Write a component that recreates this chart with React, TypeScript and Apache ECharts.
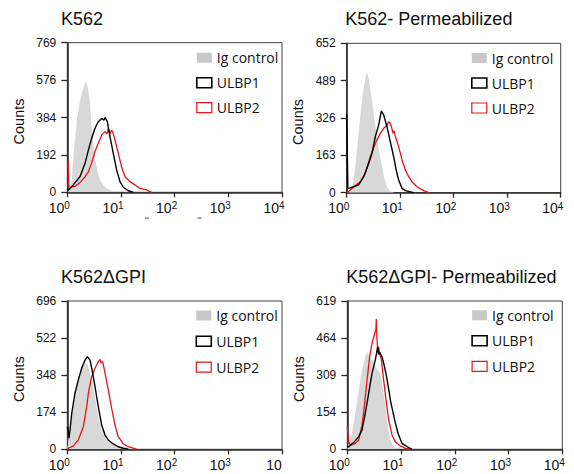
import React, { useEffect, useRef } from "react";
import * as echarts from "echarts";

const panelTitles = ["K562", "K562- Permeabilized", "K562\u0394GPI", "K562\u0394GPI- Permeabilized"];
const yMax = [769, 652, 696, 619];
const seriesNames = ["Ig control", "ULBP1", "ULBP2"];
const yAxisName = "Counts";

// Panel 1: K562
const p1Ig = [[1.0,0],[1.05,5],[1.12,25],[1.21,63],[1.33,217],[1.45,320],[1.53,386],[1.7,460],[1.85,505],[2.05,545],[2.24,570],[2.4,540],[2.61,474],[2.92,303],[3.33,165],[3.7,100],[4.06,63],[4.7,35],[5.41,20],[7.1,6],[10,0]];
const p1U1 = [[1.0,12],[1.05,12],[1.29,38],[1.72,80],[2.14,149],[2.47,217],[2.84,277],[3.28,329],[3.78,363],[4.37,380],[4.8,370],[5.04,385],[5.57,363],[6.24,286],[7.19,200],[8.3,115],[9.57,55],[11.07,26],[13.7,8],[17,0]];
const p1U2 = [[1.0,157],[1.04,157],[1.07,30],[1.12,26],[1.39,30],[1.72,50],[2.14,80],[2.47,105],[2.84,150],[3.28,210],[3.78,252],[4.37,295],[5.04,312],[5.5,300],[5.81,329],[6.2,300],[6.7,320],[7.2,300],[7.73,270],[8.91,200],[10.3,130],[11.9,80],[14.7,55],[18.2,38],[22.6,20],[30.1,12],[37.3,0]];

// Panel 2: K562- Permeabilized
const p2Ig = [[1.0,0],[1.15,3],[1.26,12],[1.45,113],[1.67,259],[1.93,405],[2.15,480],[2.39,528],[2.6,490],[2.97,405],[3.57,259],[4.1,170],[4.57,113],[5.1,60],[5.66,25],[6.53,5],[8,0]];
const p2U1 = [[1,346],[1.03,346],[1.05,20],[1.09,19],[1.35,26],[1.67,34],[2.08,70],[2.58,128],[2.97,172],[3.43,245],[3.96,295],[4.44,357],[4.92,339],[5.66,288],[6.53,223],[7.55,157],[8.4,99],[9.37,55],[10.8,19],[12.5,9],[17.9,0]];
const p2U2 = [[1,0],[1.17,12],[1.35,26],[1.8,48],[2.23,85],[2.76,157],[3.43,216],[4.25,259],[4.92,281],[5.66,295],[6.1,310],[6.53,303],[7.0,280],[7.34,259],[7.7,270],[8.11,245],[9.37,201],[10.8,143],[12.5,99],[14.4,70],[16.6,48],[20.6,26],[27.5,9],[34.1,0]];

// Panel 3: K562ΔGPI
const p3Ig = [[1,0],[1.03,30],[1.045,44],[1.21,153],[1.39,247],[1.6,325],[1.85,388],[2.14,404],[2.36,400],[2.5,380],[2.84,325],[3.28,247],[3.78,153],[4.37,91],[5.04,59],[6.24,36],[7.73,20],[9.57,9],[12.8,0]];
const p3U1 = [[1,106],[1.03,95],[1.08,52],[1.21,169],[1.39,263],[1.6,325],[1.85,380],[2.14,419],[2.36,435],[2.65,419],[2.97,357],[3.28,294],[3.78,200],[4.37,114],[5.04,67],[5.81,44],[7.19,25],[8.91,12],[11.07,5],[13.7,0]];
const p3U2 = [[1,0],[1.045,5],[1.29,15],[1.6,44],[1.99,106],[2.3,200],[2.47,263],[2.84,341],[3.28,380],[3.78,411],[4.06,422],[4.3,405],[4.56,411],[5.04,357],[5.81,278],[6.7,192],[7.73,114],[8.91,59],[11.07,25],[13.7,12],[17,5],[19.6,0]];

// Panel 4: K562ΔGPI- Permeabilized
const p4Ig = [[1,0],[1.06,25],[1.22,67],[1.41,150],[1.63,248],[1.88,331],[2.16,387],[2.4,407],[2.68,380],[3.01,370],[3.32,345],[3.67,330],[4.11,317],[4.75,234],[5.48,122],[6.31,39],[7.3,11],[8.4,0]];
const p4U1 = [[1,8],[1.06,11],[1.31,28],[1.63,53],[1.88,81],[2.16,150],[2.5,234],[2.88,317],[3.32,373],[3.5,400],[3.67,428],[3.84,395],[4.0,405],[4.42,387],[4.75,359],[5.32,310],[5.89,250],[6.4,200],[7.08,154],[7.82,110],[8.78,67],[10.4,25],[12.9,11],[16,0]];
const p4U2 = [[1,94],[1.03,94],[1.06,30],[1.17,17],[1.41,25],[1.63,39],[1.88,101],[2.07,178],[2.33,289],[2.61,387],[2.88,442],[3.18,477],[3.4,500],[3.47,544],[3.55,470],[3.67,415],[3.84,428],[4.0,401],[4.3,373],[4.75,289],[5.25,206],[5.89,122],[6.79,60],[7.82,32],[9.69,14],[12.0,4],[16.0,0]];

const panelData = [
  [p1Ig, p1U1, p1U2],
  [p2Ig, p2U1, p2U2],
  [p3Ig, p3U1, p3U2],
  [p4Ig, p4U1, p4U2],
];

const FONT = "'Liberation Sans', Arial, sans-serif";
const LEG_FONT = "'Open Sans', sans-serif";
const GRAY = "#d8d8d8";
const RED = "#e8141c";
const AXIS = "#2a2a2a";

const grids = [
  { left: 67.3, top: 42.7, width: 214.7, height: 149.6 },
  { left: 346.7, top: 43.3, width: 214, height: 149.4 },
  { left: 67.3, top: 301, width: 214.7, height: 148.3 },
  { left: 347.3, top: 301, width: 215, height: 148.3 },
];
const titlePos = [
  { left: 61, top: 9.5 },
  { left: 345.3, top: 9.5 },
  { left: 61, top: 267.8 },
  { left: 346.3, top: 267.8 },
];
const legendPos = [
  { left: 196, top: 50.7, gap: 11 },
  { left: 471, top: 51, gap: 11 },
  { left: 195.5, top: 308.5, gap: 11.8 },
  { left: 471.3, top: 308.3, gap: 11.5 },
];

export default function App() {
  const ref = useRef<HTMLDivElement>(null);
  useEffect(() => {
    if (!ref.current) return;
    const chart = echarts.init(ref.current, null, { renderer: "svg" });
    const xAxes = grids.map((_, i) => ({
      gridIndex: i,
      type: "log",
      logBase: 10,
      min: 1,
      max: 10000,
      axisLine: { show: true, onZero: false, lineStyle: { color: AXIS, width: 1.6 } },
      axisTick: { show: true, inside: false, length: 5, lineStyle: { color: AXIS, width: 1.3 } },
      splitLine: { show: false },
      minorTick: { show: false },
      axisLabel: {
        margin: 8.5,
        padding: [0, 16, 0, 0],
        formatter: (v: number) => {
          const e = Math.round(Math.log10(v));
          if (i === 2 && e === 4) return "{b|10}";
          return "{b|10}{s|" + e + "}";
        },
        rich: {
          b: { fontSize: 14, lineHeight: 14, verticalAlign: "bottom", fontFamily: FONT, color: "#111" },
          s: { fontSize: 10, lineHeight: 10, verticalAlign: "top", fontFamily: FONT, color: "#111" },
        },
      },
    }));
    const yAxes = grids.map((_, i) => ({
      gridIndex: i,
      type: "value",
      min: 0,
      max: yMax[i],
      interval: yMax[i] / 4,
      axisLine: { show: true, lineStyle: { color: AXIS, width: 1.6 } },
      axisTick: { show: true, inside: false, length: 6, lineStyle: { color: AXIS, width: 1.3 } },
      splitLine: { show: false },
      axisLabel: {
        margin: 11,
        fontSize: 12,
        fontFamily: FONT,
        color: "#111",
        formatter: (v: number) => String(Math.floor(v + 1e-6)),
      },
      name: yAxisName,
      nameLocation: "middle",
      nameGap: 41,
      nameTextStyle: { fontSize: 14.5, fontFamily: FONT, color: "#111", padding: [0, 8, 0, 0] },
    }));
    const series: any[] = [];
    panelData.forEach((sets, i) => {
      series.push({
        type: "line",
        name: seriesNames[0],
        xAxisIndex: i,
        yAxisIndex: i,
        data: sets[0],
        symbol: "none",
        showSymbol: false,
        lineStyle: { width: 0, color: GRAY },
        itemStyle: { color: GRAY },
        areaStyle: { color: GRAY, opacity: 1 },
        z: 1,
      });
      series.push({
        type: "line",
        name: seriesNames[1],
        xAxisIndex: i,
        yAxisIndex: i,
        data: sets[1],
        symbol: "none",
        showSymbol: false,
        lineStyle: { width: 1.4, color: "#000" },
        itemStyle: { color: "#000" },
        z: 3,
      });
      series.push({
        type: "line",
        name: seriesNames[2],
        xAxisIndex: i,
        yAxisIndex: i,
        data: sets[2],
        symbol: "none",
        showSymbol: false,
        lineStyle: { width: 1.3, color: RED },
        itemStyle: { color: RED },
        z: 2,
      });
    });
    const legends = legendPos.map((p) => ({
      left: p.left,
      top: p.top,
      orient: "vertical",
      padding: 0,
      itemWidth: 15,
      itemHeight: 10,
      itemGap: p.gap,
      selectedMode: false,
      textStyle: { fontSize: 14, lineHeight: 10, fontFamily: LEG_FONT, color: "#111" },
      data: [
        { name: seriesNames[0], icon: "rect", itemStyle: { color: "#c8c8c8", borderWidth: 0 } },
        { name: seriesNames[1], icon: "rect", itemStyle: { color: "#ffffff", borderColor: "#000", borderWidth: 1.6 } },
        { name: seriesNames[2], icon: "rect", itemStyle: { color: "#ffffff", borderColor: RED, borderWidth: 1.2 } },
      ],
    }));
    const titles = panelTitles.map((t, i) => ({
      text: t,
      left: titlePos[i].left,
      top: titlePos[i].top,
      padding: 0,
      textStyle: { fontSize: 18, fontWeight: "normal", fontFamily: FONT, color: "#111" },
    }));
    chart.setOption({
      animation: false,
      backgroundColor: "#fff",
      title: titles,
      legend: legends,
      grid: grids.map((g) => ({ ...g, show: true, borderColor: "#444", borderWidth: 1, backgroundColor: "transparent" })),
      xAxis: xAxes,
      yAxis: yAxes,
      series,
      graphic: [
        { type: "rect", shape: { x: 145, y: 217.5, width: 4, height: 1.2 }, style: { fill: "#666" } },
        { type: "rect", shape: { x: 197.5, y: 217.5, width: 4, height: 1.2 }, style: { fill: "#666" } },
      ],
    });
    return () => chart.dispose();
  }, []);
  return <div ref={ref} style={{ position: "absolute", left: 0, top: 0, width: 574, height: 474 }} />;
}
